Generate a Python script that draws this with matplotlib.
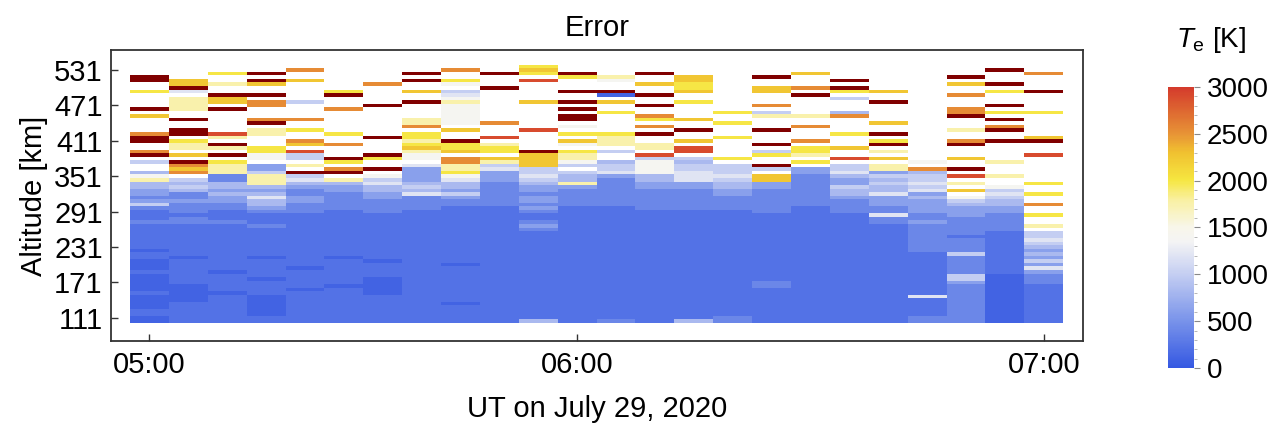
import numpy as np
import matplotlib
matplotlib.use('Agg')
import matplotlib.pyplot as plt
from matplotlib.colors import LinearSegmentedColormap, Normalize
from matplotlib.ticker import MultipleLocator

plt.rcParams['font.family'] = ['Liberation Sans', 'DejaVu Sans']
plt.rcParams['mathtext.fontset'] = 'custom'
plt.rcParams['mathtext.rm'] = 'Liberation Sans'
plt.rcParams['mathtext.it'] = 'Liberation Sans:italic'

# Te error levels used in the profile strings below (K); '.' = no data, 'X' = above 3000 K
levels = {
    '0': 100, '1': 230, '2': 400, '3': 620, '4': 830, '5': 1000, '6': 1200,
    'w': 1400, 'c': 1750, 'y': 2000, 'g': 2250, 'o': 2550, 'r': 2900, 'X': 4000,
}

# one profile per time step, written from the top gate (537 km) down to the lowest (105 km)
profiles = [
    "...XX..y.. ..X.g....o XX..oX.5.. 4wc4433235 2111211111 1101100010 0000100001 100",
    "....ggX6.c ccc..X..XX .ycc.g.Xog o.54542232 2212211111 1111011111 1100000111 111",
    "..y..c..Xg g.X......r c.Xc.X.ycc c224434332 2111211111 1111111101 1111011111 111",
    "..X.Xg..X. oo...oX.cc ...yyww.33 5ccc434644 3211121111 1111011111 0111100000 011",
    ".o..g..... 5....o..y. .og.r55.c. X564322332 2211111111 1111111011 1110111111 111",
    ".......yX. ..o......y ..o...Xy.o X.c4332222 2111111111 1111011111 1101111111 111",
    ".....o.... .X........ X....Xy..X .w56443322 2211111111 1111101111 0000011111 111",
    "..X.X..g.. X....cco.y ycygcww.63 3334546222 2111111111 1111111111 1111111111 111",
    ".o..yw.56w cwwwwww.g. .Xyyg.oocc yw64435322 1111111111 1111110111 1111111011 111",
    "..X...X... ......o... r.cyy.gc56 3332222222 1111111111 1111111111 1111111111 111",
    "ygy.r..... g.......r. ....Xgggg5 5654332332 3211232111 1111111111 1111111111 114",
    "..Xy...X.. X.X.XX.w.y .gw.yccw5. 544c322222 1111111111 1111111111 1111111111 111",
    "...cw..X0. g..y.....y ccc.5..455 6322222222 1111111111 1111111111 1111111111 112",
    "..X..g..X. .X..oy.o.X ..cc.r5www w443322222 2111111111 1111111111 1111111111 111",
    "...ggyyg.. y....g..X. .g.rr.5455 6663322222 2111111111 1111111111 1111111111 114",
    ".......... ...y..y... y.....y.55 5654433222 2111111111 1111111111 1111111111 122",
    "...X..gg.. .o.5c...X. ..X.5y..X5 .gg3322222 2211111111 1111111111 1221111111 111",
    "..g...o.X. ....c..o.. .o.yyc.y.3 3222222222 1111111111 1111111111 1111111111 111",
    "....X.Xy.5 ...4o....y ...g..r.55 6433544322 2211111111 1111111111 1111111111 111",
    ".......g.. X.....g..X .yX.c.g.cc 3545446333 2262211111 1111111111 1111111111 111",
    ".......... .......... .......w.o 4556563433 3322322222 2221111111 1111161111 122",
    "...X.g..o. ..ooX...c. .oX...g..X .r.c.g.w54 3332222212 2225222225 5322222222 222",
    ".X...X.y.. .X.y.X.oX. .X.....c.. .c..w56544 3322222111 1111111110 0000000000 000",
    "..o....X.. ...y...... gX...r.... ...y..y..o ..y..c.556 5434353632 2211111111 111",
]

alt_bottom = 102      # km, lower edge of lowest gate
gate_km = 6
tick_cols = [0, 11, 23]
tick_labels = ['05:00', '06:00', '07:00']
alt_ticks = [111, 171, 231, 291, 351, 411, 471, 531]

# build the grid (rows bottom -> top, columns = time steps)
cols = []
for p in profiles:
    s = p.replace(' ', '')
    assert len(s) == 73, len(s)
    cols.append([np.nan if ch == '.' else levels[ch] for ch in s[::-1]])
Z = np.array(cols).T
n_alt, n_t = Z.shape
x_edges = np.arange(n_t + 1) - 0.5
y_edges = alt_bottom + gate_km * np.arange(n_alt + 1)

cmap = LinearSegmentedColormap.from_list('temp', [
    (0.00, '#3558e2'),
    (0.17, '#7a94ea'),
    (0.33, '#c3cdf2'),
    (0.45, '#f4f4f4'),
    (0.50, '#f8f6ea'),
    (0.60, '#f9f0a0'),
    (0.67, '#f6e640'),
    (0.77, '#f0c030'),
    (0.83, '#e89636'),
    (1.00, '#d43a2c'),
])
cmap.set_over('#800000')
cmap.set_bad('white')
norm = Normalize(0, 3000)

fig = plt.figure(figsize=(12.74, 4.26), dpi=100)
ax = fig.add_axes([0.0871, 0.1995, 0.763, 0.683])
mesh = ax.pcolormesh(x_edges, y_edges, np.ma.masked_invalid(Z), cmap=cmap, norm=norm)

ax.set_xlim(-0.99, 24.01)
ax.set_ylim(71.5, 565)
ax.set_xticks(tick_cols)
ax.set_xticklabels(tick_labels)
ax.set_yticks(alt_ticks)
ax.tick_params(direction='in', length=5, width=1, labelsize=21, color='#333333')
ax.tick_params(axis='x', pad=7)
ax.tick_params(axis='y', pad=6)
for sp in ax.spines.values():
    sp.set_color('#333333')
    sp.set_linewidth(1.3)

ax.set_title('Error', fontsize=21, pad=10)
ax.set_xlabel('UT on July 29, 2020', fontsize=21, labelpad=12)
ax.set_ylabel('Altitude [km]', fontsize=21, labelpad=4)

cax = fig.add_axes([0.9168, 0.136, 0.0204, 0.66])
cb = fig.colorbar(mesh, cax=cax, extend='neither')
cb.set_ticks([0, 500, 1000, 1500, 2000, 2500, 3000])
cb.ax.yaxis.set_minor_locator(MultipleLocator(100))
cb.ax.tick_params(which='major', length=4, width=0.8, color='#888888', labelsize=20, pad=5)
cb.ax.tick_params(which='minor', length=2, width=0.6, color='#aaaaaa')
cb.outline.set_visible(False)
fig.text(0.951, 0.905, '$T_\\mathrm{e}$ [K]', fontsize=20, ha='center', va='center')

fig.savefig('out.png', dpi=100)
